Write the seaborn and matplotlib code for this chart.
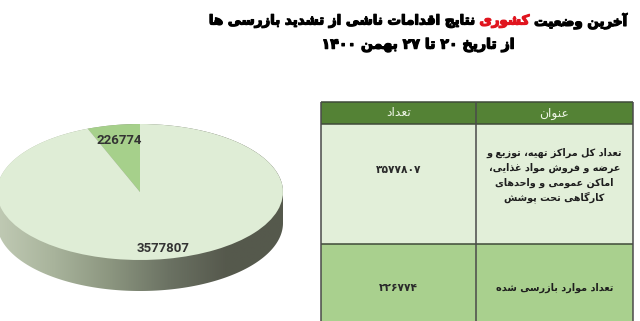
import numpy as np
import matplotlib
matplotlib.use("Agg")
import matplotlib.pyplot as plt
import matplotlib.patheffects as pe
import seaborn as sns
from matplotlib.patches import Rectangle, Polygon
from matplotlib.colors import LinearSegmentedColormap

# ---------------- data ----------------
pie_values = [226774, 3577807]
pie_colors = ["#a6d08b", "#dfedd6"]
table_header = ["عنوان", "تعداد"]
table_titles = [
    ["تعداد کل مراکز تهیه، توزیع و", "عرضه و فروش مواد غذایی،",
     "اماکن عمومی و واحدهای", "کارگاهی تحت پوشش"],
    ["تعداد موارد بازرسی شده"],
]
table_values = [3577807, 226774]
title_parts = ["آخرین وضعیت", "کشوری", "نتایج اقدامات ناشی از تشدید بازرسی ها"]
title_colors = ["black", "#e0141e", "black"]
title_line2 = "از تاریخ ۲۰ تا ۲۷ بهمن ۱۴۰۰"

# ------------- Persian shaping (presentation forms + visual order) -------------
FORMS = {}
for ch, base in [('\u0628', 0xFE8F), ('\u062A', 0xFE95), ('\u062B', 0xFE99), ('\u062C', 0xFE9D),
                 ('\u062D', 0xFEA1), ('\u062E', 0xFEA5), ('\u0633', 0xFEB1), ('\u0634', 0xFEB5),
                 ('\u0635', 0xFEB9), ('\u0636', 0xFEBD), ('\u0637', 0xFEC1), ('\u0638', 0xFEC5),
                 ('\u0639', 0xFEC9), ('\u063A', 0xFECD), ('\u0641', 0xFED1), ('\u0642', 0xFED5),
                 ('\u0644', 0xFEDD), ('\u0645', 0xFEE1), ('\u0646', 0xFEE5), ('\u0647', 0xFEE9),
                 ('\u067E', 0xFB56), ('\u0686', 0xFB7A), ('\u06A9', 0xFB8E), ('\u06AF', 0xFB92),
                 ('\u06CC', 0xFBFC)]:
    FORMS[ch] = tuple(chr(base + i) for i in range(4))  # iso, fin, ini, med
for ch, base in [('\u0622', 0xFE81), ('\u0627', 0xFE8D), ('\u062F', 0xFEA9), ('\u0630', 0xFEAB),
                 ('\u0631', 0xFEAD), ('\u0632', 0xFEAF), ('\u0648', 0xFEED), ('\u0698', 0xFB8A)]:
    FORMS[ch] = tuple(chr(base + i) for i in range(2))
LAMALEF = {'\u0627': ('\uFEFB', '\uFEFC'), '\u0622': ('\uFEF5', '\uFEF6')}
DIGITS = set('0123456789۰۱۲۳۴۵۶۷۸۹')


def shape(s):
    res, i, n = [], 0, len(s)
    while i < n:
        c = s[i]
        if c not in FORMS:
            res.append(c)
            i += 1
            continue
        prev = s[i - 1] if i > 0 else None
        cp = prev in FORMS and len(FORMS[prev]) == 4
        if c == '\u0644' and i + 1 < n and s[i + 1] in LAMALEF:
            lig = LAMALEF[s[i + 1]]
            res.append(lig[1] if cp else lig[0])
            i += 2
            continue
        f = FORMS[c]
        nxt = s[i + 1] if i + 1 < n else None
        cn = len(f) == 4 and nxt in FORMS
        res.append(f[3] if (cp and cn) else f[1] if cp else f[2] if cn else f[0])
        i += 1
    return ''.join(res)


def fa(s):
    s = shape(s)
    toks, cur, cd = [], '', None
    for c in s:
        d = c in DIGITS
        if cur and d != cd:
            toks.append((cur, cd))
            cur = ''
        cur += c
        cd = d
    if cur:
        toks.append((cur, cd))
    return ''.join(t if d else t[::-1] for t, d in reversed(toks))


def fa_num(n):
    return str(n).translate(str.maketrans('0123456789', '۰۱۲۳۴۵۶۷۸۹'))


# ---------------- figure ----------------
sns.set_theme(style="white")
plt.rcParams['font.family'] = ['DejaVu Sans']
W, H = 640, 321
fig = plt.figure(figsize=(6.4, 3.21), dpi=100)
fig.patch.set_facecolor("white")

# pie axes (pixel window x 0..300, y 100..321)
PX0, PX1, PY0, PY1 = 0, 300, 100, 321
ax = fig.add_axes([PX0 / W, 1 - PY1 / H, (PX1 - PX0) / W, (PY1 - PY0) / H])
cx, cy, a, b, depth = 140, 192, 143, 68, 31
d = depth / b

t1 = np.linspace(np.pi, 2 * np.pi, 300)
t2 = np.linspace(0, np.pi, 300)
xs = np.concatenate([np.cos(t1), np.cos(t2)])
ys = np.concatenate([np.sin(t1) - d, np.sin(t2)])
side = Polygon(np.column_stack([xs, ys]), closed=True, facecolor="none", edgecolor="none")
ax.add_patch(side)
side_cmap = LinearSegmentedColormap.from_list(
    "side", ["#c0cab4", "#a8b39b", "#8b957f", "#6b7263", "#56594d", "#55594c"])
im = ax.imshow(np.linspace(0, 1, 256)[None, :], cmap=side_cmap, extent=(-1, 1, -1 - d, 1),
               aspect="auto", zorder=0, interpolation="bilinear")
im.set_clip_path(side)

wedges, _ = ax.pie(pie_values, colors=pie_colors, startangle=90, counterclock=True,
                   radius=1, wedgeprops=dict(linewidth=0))
for w in wedges:
    w.set_zorder(2)
ax.set_aspect("auto")
ax.set_xlim((PX0 - cx) / a, (PX1 - cx) / a)
ax.set_ylim((cy - PY1) / b, (cy - PY0) / b)
ax.axis("off")

for w, v, r in zip(wedges, pie_values, [0.77, 0.85]):
    ang = np.deg2rad((w.theta1 + w.theta2) / 2)
    ax.text(r * np.cos(ang), r * np.sin(ang), f"{v}", ha="center", va="center",
            fontsize=9.5, fontweight="bold", color="#333333",
            family=["Roboto", "DejaVu Sans"], zorder=5)

# overlay axes in pixel coordinates
ov = fig.add_axes([0, 0, 1, 1])
ov.set_xlim(0, W)
ov.set_ylim(H, 0)
ov.axis("off")
ov.patch.set_visible(False)
renderer = fig.canvas.get_renderer()


def width(s, size, weight="bold"):
    t = ov.text(0, 0, s, fontsize=size, fontweight=weight)
    wpx = t.get_window_extent(renderer).width
    t.remove()
    return wpx


def fit(s, target, weight="bold"):
    return 10 * target / width(s, 10, weight)


# title
vis = [fa(p) for p in title_parts]
gap_ref = fa(" ".join(title_parts))
ts = fit(gap_ref, 420)
ws = [width(v, ts) for v in vis]
gap = (width(gap_ref, ts) - sum(ws)) / 2
total = sum(ws) + 2 * gap
tcx = 418
x = tcx + total / 2
for v, wv, col in zip(vis, ws, title_colors):
    ov.text(x, 21, v, ha="right", va="center", fontsize=ts, fontweight="bold", color=col,
            path_effects=[pe.withStroke(linewidth=0.9, foreground=col)])
    x -= wv + gap
ov.text(tcx, 45, fa(title_line2), ha="center", va="center", fontsize=ts * 1.05,
        fontweight="bold", color="black",
        path_effects=[pe.withStroke(linewidth=0.9, foreground="black")])

# table
TL, TR, TC = 321, 633, 476
YH0, YH1, YR1, YB = 102, 124, 244, 330
ov.add_patch(Rectangle((TL, YH0), TR - TL, YH1 - YH0, facecolor="#548235", edgecolor="none"))
ov.add_patch(Rectangle((TL, YH1), TR - TL, YR1 - YH1, facecolor="#e2efd9", edgecolor="none"))
ov.add_patch(Rectangle((TL, YR1), TR - TL, YB - YR1, facecolor="#a9d08e", edgecolor="none"))
lc = "#3f4a38"
for yy in [YH0, YH1, YR1]:
    ov.plot([TL, TR], [yy, yy], color=lc, lw=1.1, solid_capstyle="butt")
for xx in [TL, TC, TR]:
    ov.plot([xx, xx], [YH0, YB], color="#4a4a4a", lw=1.1, solid_capstyle="butt")

colL = (TL + TC) / 2
colR = (TC + TR) / 2
hs = fit(fa(table_header[0]), 30, "normal")
ov.text(colR, 113, fa(table_header[0]), ha="center", va="center", fontsize=hs, color="#eef5e6")
ov.text(colL, 113, fa(table_header[1]), ha="center", va="center", fontsize=hs, color="#eef5e6")

bs = fit(fa(table_titles[0][0]), 136)
row_centers = [175, 288]
for lines, val, yc in zip(table_titles, table_values, row_centers):
    nl = len(lines)
    for k, ln in enumerate(lines):
        ov.text(colR, yc + (k - (nl - 1) / 2) * 15, fa(ln), ha="center", va="center",
                fontsize=bs, fontweight="bold", color="#1e1e1e")
    ov.text(colL, yc - 5 if nl > 1 else yc, fa_num(val), ha="center", va="center",
            fontsize=bs * 1.1, fontweight="bold", color="#2a2a2a")

fig.savefig("out.png", dpi=100)
